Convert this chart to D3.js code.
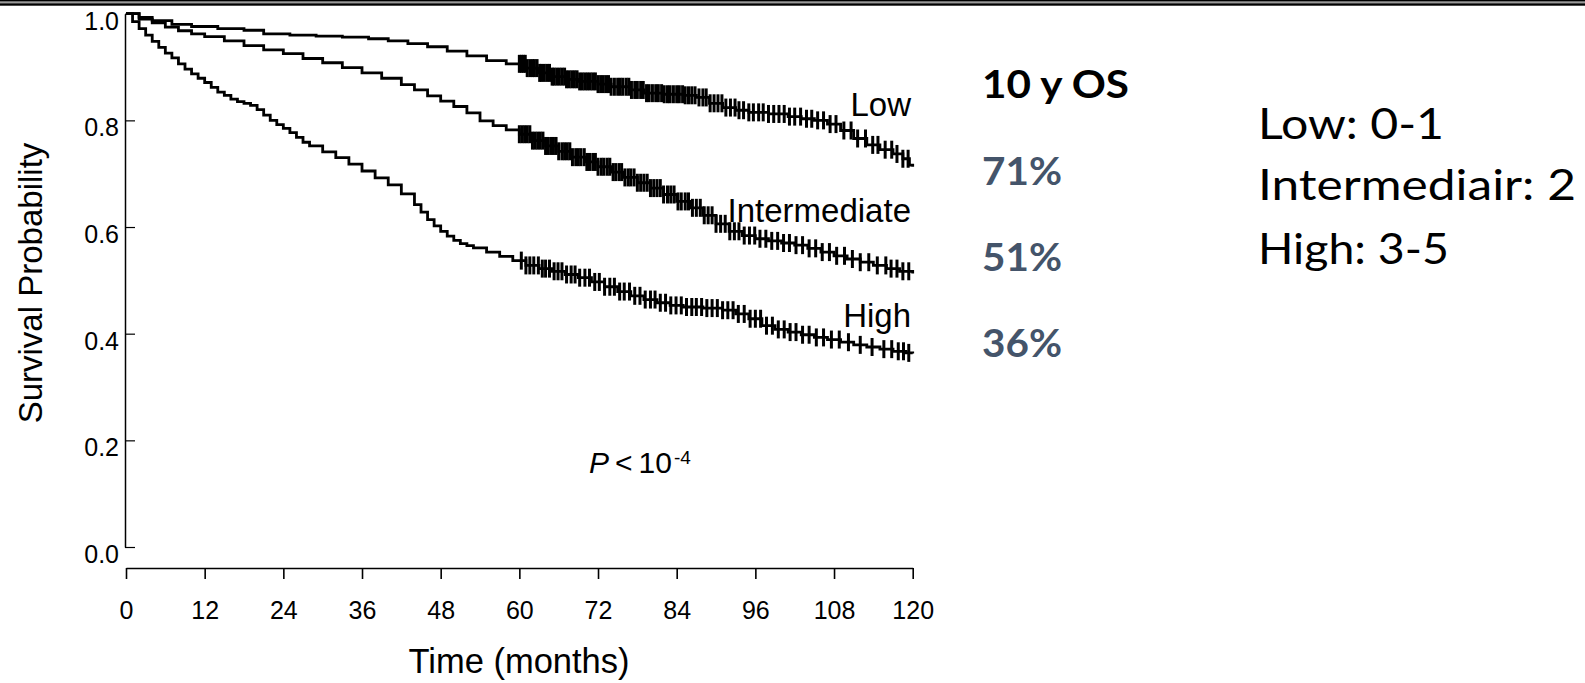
<!DOCTYPE html>
<html>
<head>
<meta charset="utf-8">
<script src="https://cdn.jsdelivr.net/npm/d3@7"></script>
<style>
  body { margin: 0; background: #fff; }
  svg { display: block; }
  .axis path, .axis line { stroke: #000; }
  .axis text { font-family: "Liberation Sans", Arial, sans-serif; fill: #000; }
</style>
</head>
<body>
<div id="canvas"></div>
<script>
// ---- DATA ----
var xTicks = [0, 12, 24, 36, 48, 60, 72, 84, 96, 108, 120];
var yTicks = [0, 0.2, 0.4, 0.6, 0.8, 1.0];

// [months, survival]
var lowCurve = [[0,1.0],[2,0.993],[4,0.987],[7,0.98],[10,0.976],[14,0.972],[18,0.969],[21,0.962],[25,0.96],[29,0.958],[33,0.956],[37,0.953],[40,0.949],[43,0.944],[46,0.938],[49,0.93],[52,0.921],[55,0.912],[58,0.906],[61,0.898],[63,0.889],[65,0.882],[67,0.877],[69,0.873],[72,0.868],[74,0.863],[77,0.857],[79,0.851],[82,0.849],[85,0.847],[87,0.843],[89,0.832],[91,0.824],[93,0.819],[95,0.815],[98,0.812],[101,0.807],[103,0.803],[105,0.8],[107,0.793],[109,0.781],[111,0.766],[113,0.754],[115,0.745],[117,0.737],[118.5,0.728],[119.5,0.716],[120,0.713]];

var interCurve = [[0,1.0],[2,0.99],[4,0.983],[6,0.975],[8,0.968],[10,0.962],[12,0.957],[15,0.949],[18,0.94],[21,0.932],[24,0.925],[27,0.916],[30,0.908],[33,0.899],[36,0.889],[39,0.879],[42,0.867],[44,0.857],[46,0.846],[48,0.836],[50,0.826],[52,0.814],[54,0.799],[56,0.79],[58,0.782],[60,0.774],[62,0.762],[64,0.752],[66,0.742],[68,0.731],[70,0.722],[72,0.713],[74,0.703],[76,0.693],[78,0.683],[80,0.673],[82,0.661],[84,0.648],[86,0.636],[88,0.622],[90,0.606],[92,0.592],[94,0.584],[96,0.578],[98,0.574],[100,0.57],[102,0.566],[104,0.56],[106,0.553],[108,0.546],[110,0.54],[112,0.534],[114,0.528],[116,0.522],[118,0.517],[120,0.513]];

var highCurve = [[0,1.0],[1,0.985],[2,0.972],[3,0.96],[4,0.948],[5,0.937],[6,0.926],[7,0.917],[8,0.906],[9,0.896],[10,0.887],[11,0.879],[12,0.871],[13,0.862],[14,0.853],[15,0.847],[16,0.84],[17,0.835],[18,0.832],[19,0.828],[20,0.82],[21,0.81],[22,0.8],[23,0.792],[24,0.785],[25,0.777],[26,0.768],[27,0.759],[28,0.752],[30,0.741],[32,0.73],[34,0.718],[36,0.705],[38,0.692],[40,0.679],[42,0.662],[44,0.642],[45,0.628],[46,0.614],[47,0.602],[48,0.592],[49,0.583],[50,0.575],[51,0.569],[52,0.565],[53,0.561],[55,0.553],[57,0.545],[59,0.537],[61,0.528],[63,0.522],[65,0.517],[67,0.511],[69,0.505],[71,0.497],[73,0.488],[75,0.479],[77,0.471],[79,0.464],[81,0.458],[83,0.453],[85,0.45],[88,0.448],[91,0.444],[93,0.437],[95,0.428],[97,0.415],[99,0.408],[101,0.403],[103,0.398],[105,0.393],[107,0.389],[109,0.384],[111,0.379],[113,0.375],[115,0.371],[117,0.367],[119,0.364],[120,0.363]];

// censoring times (months)
var lowCensor = [60.0,60.3,60.6,60.9,61.2,61.6,62.0,62.3,62.7,63.1,63.4,63.8,64.2,64.6,65.0,65.3,65.7,66.1,66.5,66.9,67.2,67.6,68.0,68.4,68.8,69.2,69.6,70.0,70.4,70.8,71.2,71.6,72.0,72.4,72.8,73.2,73.6,74.0,74.5,75.0,75.4,75.8,76.3,76.7,77.1,77.6,78.0,78.5,78.9,79.4,79.8,80.3,80.8,81.2,81.7,82.1,82.6,83.0,83.5,84.0,84.4,84.9,85.3,85.8,86.3,86.8,87.4,88.0,88.5,89.1,89.7,90.3,90.9,91.5,92.2,92.9,93.5,94.2,95.0,95.7,96.5,97.2,98.0,98.8,99.6,100.4,101.2,102.0,102.9,103.8,104.6,105.5,106.4,107.4,108.3,109.5,110.6,111.6,112.8,113.9,114.7,115.8,116.8,117.6,118.5,119.3];
var interCensor = [60.0,60.4,60.8,61.2,61.6,62.0,62.4,62.8,63.2,63.6,64.0,64.4,64.8,65.2,65.6,66.0,66.5,66.9,67.3,67.7,68.1,68.6,69.0,69.4,69.9,70.3,70.7,71.2,71.6,72.0,72.5,72.9,73.4,73.8,74.3,74.7,75.2,75.6,76.1,76.6,77.0,77.5,78.0,78.5,79.0,79.5,80.0,80.5,81.0,81.5,82.0,82.6,83.1,83.6,84.2,84.7,85.3,85.8,86.4,87.0,87.6,88.2,88.8,89.4,90.0,90.7,91.4,92.1,92.8,93.5,94.3,95.1,95.9,96.7,97.6,98.5,99.4,100.3,101.2,102.2,103.2,104.2,105.2,106.2,107.3,108.4,109.6,110.8,112.0,113.3,114.6,115.9,116.7,117.6,118.5,119.4];
var highCensor = [60.3,61.0,61.6,62.2,62.9,63.5,64.0,64.6,65.3,65.9,66.5,67.2,67.9,68.5,69.2,70.0,70.7,71.5,72.2,73.0,73.8,74.5,75.3,76.0,76.8,77.6,78.4,79.2,80.0,80.7,81.5,82.3,83.1,83.9,84.7,85.5,86.3,87.0,87.8,88.6,89.4,90.2,91.0,91.8,92.6,93.4,94.3,95.2,96.0,96.8,97.7,98.6,99.5,100.4,101.3,102.2,103.2,104.2,105.3,106.4,107.6,108.8,110.2,112.0,113.8,115.6,116.8,117.8,118.6,119.4];

var groupNames = ['Low', 'Intermediate', 'High'];
var osValues = ['71%', '51%', '36%'];
var scoreLines = ['Low: 0-1', 'Intermediair: 2', 'High: 3-5'];


// ---- CONVENTIONS ----
var outerWidth = 1585,
    outerHeight = 683;

var svg = d3.select('#canvas')
    .append('svg')
    .attr('width', outerWidth)
    .attr('height', outerHeight);

svg.append('rect').attr('width', outerWidth).attr('height', outerHeight).attr('fill', '#fff');

// double rule at the top of the slide
svg.append('rect').attr('x', 0).attr('y', 1.3).attr('width', outerWidth).attr('height', 2).attr('fill', '#9a9a9a');
svg.append('rect').attr('x', 0).attr('y', 0).attr('width', outerWidth).attr('height', 1.4).attr('fill', '#000');
svg.append('rect').attr('x', 0).attr('y', 3.3).attr('width', outerWidth).attr('height', 2.4).attr('fill', '#000');


// ---- SCALES ----
var scaleX = d3.scaleLinear()
    .domain([0, 120])
    .range([126, 912.7]);

var scaleY = d3.scaleLinear()
    .domain([0, 1])
    .range([547, 13.7]);


//---- AXES ----
var axisX = d3.axisBottom()
    .scale(scaleX)
    .tickValues(xTicks)
    .tickSizeInner(11)
    .tickSizeOuter(0);

var axisY = d3.axisLeft()
    .scale(scaleY)
    .tickValues(yTicks)
    .tickFormat(d3.format('.1f'))
    .tickSizeInner(-10)
    .tickSizeOuter(0)
    .tickPadding(6);

var gx = svg.append('g').attr('class', 'axis axis-x')
    .attr('transform', 'translate(0,568)')
    .call(axisX);
gx.select('.domain').attr('stroke-width', 1.6);
gx.selectAll('.tick line').attr('stroke-width', 1.6);
gx.selectAll('.tick text')
    .attr('y', 51)
    .attr('dy', 0)
    .style('font-size', '25px');

var gy = svg.append('g').attr('class', 'axis axis-y')
    .attr('transform', 'translate(125,0)')
    .call(axisY);
gy.select('.domain').attr('stroke-width', 1.5);
gy.selectAll('.tick line').attr('stroke-width', 1.2);
gy.selectAll('.tick text')
    .attr('dy', '0.62em')
    .style('font-size', '25px');

// axis titles
svg.append('text')
    .attr('x', 519)
    .attr('y', 673)
    .attr('text-anchor', 'middle')
    .style('font-family', '"Liberation Sans", Arial, sans-serif')
    .style('font-size', '34.5px')
    .text('Time (months)');

svg.append('text')
    .attr('transform', 'translate(42,283) rotate(-90)')
    .attr('text-anchor', 'middle')
    .style('font-family', '"Liberation Sans", Arial, sans-serif')
    .style('font-size', '33px')
    .text('Survival Probability');


//---- GENERATORS ----
var lineGenerator = d3.line()
    .x(function(d){ return scaleX(d[0]); })
    .y(function(d){ return scaleY(d[1]); })
    .curve(d3.curveStepAfter);

// survival of a step curve at time t
function survivalAt(curve, t){
    var s = curve[0][1];
    for (var i = 0; i < curve.length; i++){
        if (curve[i][0] <= t) s = curve[i][1];
    }
    return s;
}

var series = [
    {name: groupNames[0], curve: lowCurve, censor: lowCensor, labelY: 116},
    {name: groupNames[1], curve: interCurve, censor: interCensor, labelY: 221.5},
    {name: groupNames[2], curve: highCurve, censor: highCensor, labelY: 326.5}
];

series.forEach(function(s){
    svg.append('path')
        .datum(s.curve)
        .attr('d', lineGenerator)
        .style('fill', 'none')
        .style('stroke', '#000')
        .style('stroke-width', '2.8px');

    svg.append('g').selectAll('line')
        .data(s.censor)
        .enter()
        .append('line')
        .attr('x1', function(d){ return scaleX(d); })
        .attr('x2', function(d){ return scaleX(d); })
        .attr('y1', function(d){ return scaleY(survivalAt(s.curve, d)) - 9; })
        .attr('y2', function(d){ return scaleY(survivalAt(s.curve, d)) + 9; })
        .style('stroke', '#000')
        .style('stroke-width', '3px');

    svg.append('text')
        .attr('x', 911)
        .attr('y', s.labelY)
        .attr('text-anchor', 'end')
        .style('font-family', '"Liberation Sans", Arial, sans-serif')
        .style('font-size', '33px')
        .text(s.name);
});

// p-value
var pText = svg.append('text')
    .attr('x', 589)
    .attr('y', 473)
    .style('font-family', '"Liberation Sans", Arial, sans-serif')
    .style('font-size', '30px');
pText.append('tspan').style('font-style', 'italic').text('P');
pText.append('tspan').attr('dx', 6).text('<');
pText.append('tspan').attr('dx', 6).text('10');
pText.append('tspan').attr('dx', 2).attr('dy', -9).style('font-size', '19px').text('-4');


// ---- 10 y OS ----
svg.append('text')
    .attr('x', 982)
    .attr('y', 97.5)
    .attr('textLength', 147)
    .attr('lengthAdjust', 'spacingAndGlyphs')
    .style('font-family', 'Lato, "Open Sans", sans-serif')
    .style('font-weight', 'bold')
    .style('font-size', '38px')
    .text('10 y OS');

var osY = [184.5, 270.5, 356.5];
svg.append('g').selectAll('text')
    .data(osValues)
    .enter()
    .append('text')
    .attr('x', 982)
    .attr('y', function(d, i){ return osY[i]; })
    .attr('textLength', 80)
    .attr('lengthAdjust', 'spacingAndGlyphs')
    .style('font-family', 'Lato, "Open Sans", sans-serif')
    .style('font-weight', 'bold')
    .style('font-size', '39px')
    .style('fill', '#44546A')
    .text(function(d){ return d; });

var scoreY = [139, 200, 264];
var scoreW = [186, 318, 191];
svg.append('g').selectAll('text')
    .data(scoreLines)
    .enter()
    .append('text')
    .attr('x', 1258)
    .attr('y', function(d, i){ return scoreY[i]; })
    .attr('textLength', function(d, i){ return scoreW[i]; })
    .attr('lengthAdjust', 'spacingAndGlyphs')
    .style('font-family', 'Lato, "Open Sans", sans-serif')
    .style('font-size', '43px')
    .style('fill', '#000')
    .text(function(d){ return d; });
</script>
</body>
</html>
